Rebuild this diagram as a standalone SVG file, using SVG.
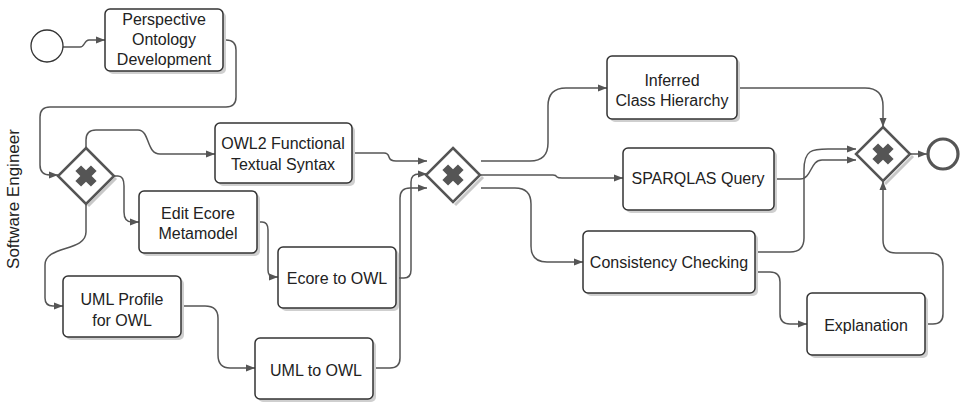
<svg xmlns="http://www.w3.org/2000/svg" width="960" height="403" viewBox="0 0 960 403">
<defs>
<marker id="arr" markerWidth="10" markerHeight="8" refX="9" refY="4" orient="auto" markerUnits="userSpaceOnUse">
<path d="M0,0.5 L9,4 L0,7.5 Z" fill="#555"/>
</marker>
<style>
.task rect.b{fill:#fff;stroke:#333;stroke-width:1.5}
.task rect.s{fill:#cfcfcf}
text{font-family:"Liberation Sans",Arial,sans-serif;font-size:16px;fill:#222;text-anchor:middle}
.gw .d{fill:#fff;stroke:#555;stroke-width:2.5}
.gw .sh{fill:none;stroke:#c8c8c8;stroke-width:3}
.gw .x{fill:#555}
.conn path{fill:none;stroke:#555;stroke-width:1.5;marker-end:url(#arr)}
</style>
</defs>
<rect width="960" height="403" fill="#fff"/>
<text transform="translate(19,199) rotate(-90)" style="font-size:17px">Software Engineer</text>

<g class="conn">
<path d="M63,47 H80 C85,47 84,40 89,40 H105"/>
<path d="M223,40 H226 Q236,40 236,50 V97 Q236,107 226,107 H50 Q40,107 40,117 V165 Q40,175 50,175 H58"/>
<path d="M86,148 V140 Q86,130 96,130 H138 C150,130 146,154 160,154 H215"/>
<path d="M114,176 H118 Q124,176 124,186 V212 Q124,222 132,222 H139"/>
<path d="M257,222 H262 Q268,222 268,230 V270 Q268,277 274,277 H278"/>
<path d="M86,204 V232 C86,252 45,245 45,265 V298 Q45,306 53,306 H63"/>
<path d="M181,306 H205 Q218,306 218,318 V355 Q218,368 230,368 H255"/>
<path d="M352,153 H384 Q388,153 389,157 Q390,161 396,161 H427"/>
<path d="M396,278 H404 Q411,278 411,270 V182 Q411,174 419,174 H427"/>
<path d="M373,368 H390 Q400,368 400,358 V198 Q400,188 410,188 H427"/>
<path d="M481,161 H530 Q548,161 548,143 V106 Q548,88 566,88 H607"/>
<path d="M481,175 H553 Q556,175 557,177 Q558,178 562,178 H623"/>
<path d="M481,188 H515 Q531,188 531,204 V246 Q531,262 547,262 H583"/>
<path d="M737,88 H865 Q883,88 883,106 V127"/>
<path d="M774,179 H800 C812,179 810,160 822,160 H856"/>
<path d="M755,252 H790 Q804,252 804,238 V170 C804,150 812,149 828,149 H856"/>
<path d="M755,272 H770 Q780,272 780,282 V314 Q780,324 790,324 H807"/>
<path d="M925,324 H933 Q943,324 943,314 V266 Q943,253 930,253 H896 Q883,253 883,240 V181"/>
<path d="M910,154 H927"/>
</g>

<g id="start"><circle cx="47" cy="46" r="16" fill="#fff" stroke="#333" stroke-width="1.3"/></g>

<g id="perspective" class="task">
<rect class="s" x="108" y="12" width="118" height="62" rx="5"/>
<rect class="b" x="105" y="9" width="118" height="62" rx="5"/>
<text x="164" y="25">Perspective</text>
<text x="164" y="45">Ontology</text>
<text x="164" y="65">Development</text>
</g>

<g id="gw1" class="gw">
<path class="sh" d="M116,178 L88,206"/>
<path class="d" d="M86,148 L114,176 L86,204 L58,176 Z"/>
<path class="x" d="M82,165 h8 v7 h7 v8 h-7 v7 h-8 v-7 h-7 v-8 h7 Z" transform="rotate(45 86 176)"/>
</g>

<g id="owl2" class="task">
<rect class="s" x="218" y="126" width="137" height="60" rx="5"/>
<rect class="b" x="215" y="123" width="137" height="60" rx="5"/>
<text x="283" y="149">OWL2 Functional</text>
<text x="283" y="170">Textual Syntax</text>
</g>

<g id="editecore" class="task">
<rect class="s" x="142" y="194" width="118" height="62" rx="5"/>
<rect class="b" x="139" y="191" width="118" height="62" rx="5"/>
<text x="198" y="219">Edit Ecore</text>
<text x="198" y="239">Metamodel</text>
</g>

<g id="ecore2owl" class="task">
<rect class="s" x="281" y="250" width="118" height="61" rx="5"/>
<rect class="b" x="278" y="247" width="118" height="61" rx="5"/>
<text x="337" y="284">Ecore to OWL</text>
</g>

<g id="umlprofile" class="task">
<rect class="s" x="66" y="279" width="118" height="61" rx="5"/>
<rect class="b" x="63" y="276" width="118" height="61" rx="5"/>
<text x="122" y="305">UML Profile</text>
<text x="122" y="326">for OWL</text>
</g>

<g id="uml2owl" class="task">
<rect class="s" x="258" y="341" width="118" height="61" rx="5"/>
<rect class="b" x="255" y="338" width="118" height="61" rx="5"/>
<text x="316" y="376">UML to OWL</text>
</g>

<g id="gw2" class="gw">
<path class="sh" d="M483,177 L455,205"/>
<path class="d" d="M453,148 L480,175 L453,202 L426,175 Z"/>
<path class="x" d="M449,164 h8 v7 h7 v8 h-7 v7 h-8 v-7 h-7 v-8 h7 Z" transform="rotate(45 453 175)"/>
</g>

<g id="inferred" class="task">
<rect class="s" x="610" y="59" width="130" height="63" rx="5"/>
<rect class="b" x="607" y="56" width="130" height="63" rx="5"/>
<text x="672" y="86">Inferred</text>
<text x="672" y="106">Class Hierarchy</text>
</g>

<g id="sparqlas" class="task">
<rect class="s" x="626" y="151" width="151" height="62" rx="5"/>
<rect class="b" x="623" y="148" width="151" height="62" rx="5"/>
<text x="698" y="184">SPARQLAS Query</text>
</g>

<g id="consistency" class="task">
<rect class="s" x="586" y="234" width="172" height="62" rx="5"/>
<rect class="b" x="583" y="231" width="172" height="62" rx="5"/>
<text x="669" y="268">Consistency Checking</text>
</g>

<g id="explanation" class="task">
<rect class="s" x="810" y="296" width="118" height="62" rx="5"/>
<rect class="b" x="807" y="293" width="118" height="62" rx="5"/>
<text x="866" y="331">Explanation</text>
</g>

<g id="gw3" class="gw">
<path class="sh" d="M913,156 L885,184"/>
<path class="d" d="M883,127 L910,154 L883,181 L856,154 Z"/>
<path class="x" d="M879,143 h8 v7 h7 v8 h-7 v7 h-8 v-7 h-7 v-8 h7 Z" transform="rotate(45 883 154)"/>
</g>

<g id="end"><circle cx="943" cy="154" r="15" fill="#fff" stroke="#555" stroke-width="3.2"/></g>
</svg>
